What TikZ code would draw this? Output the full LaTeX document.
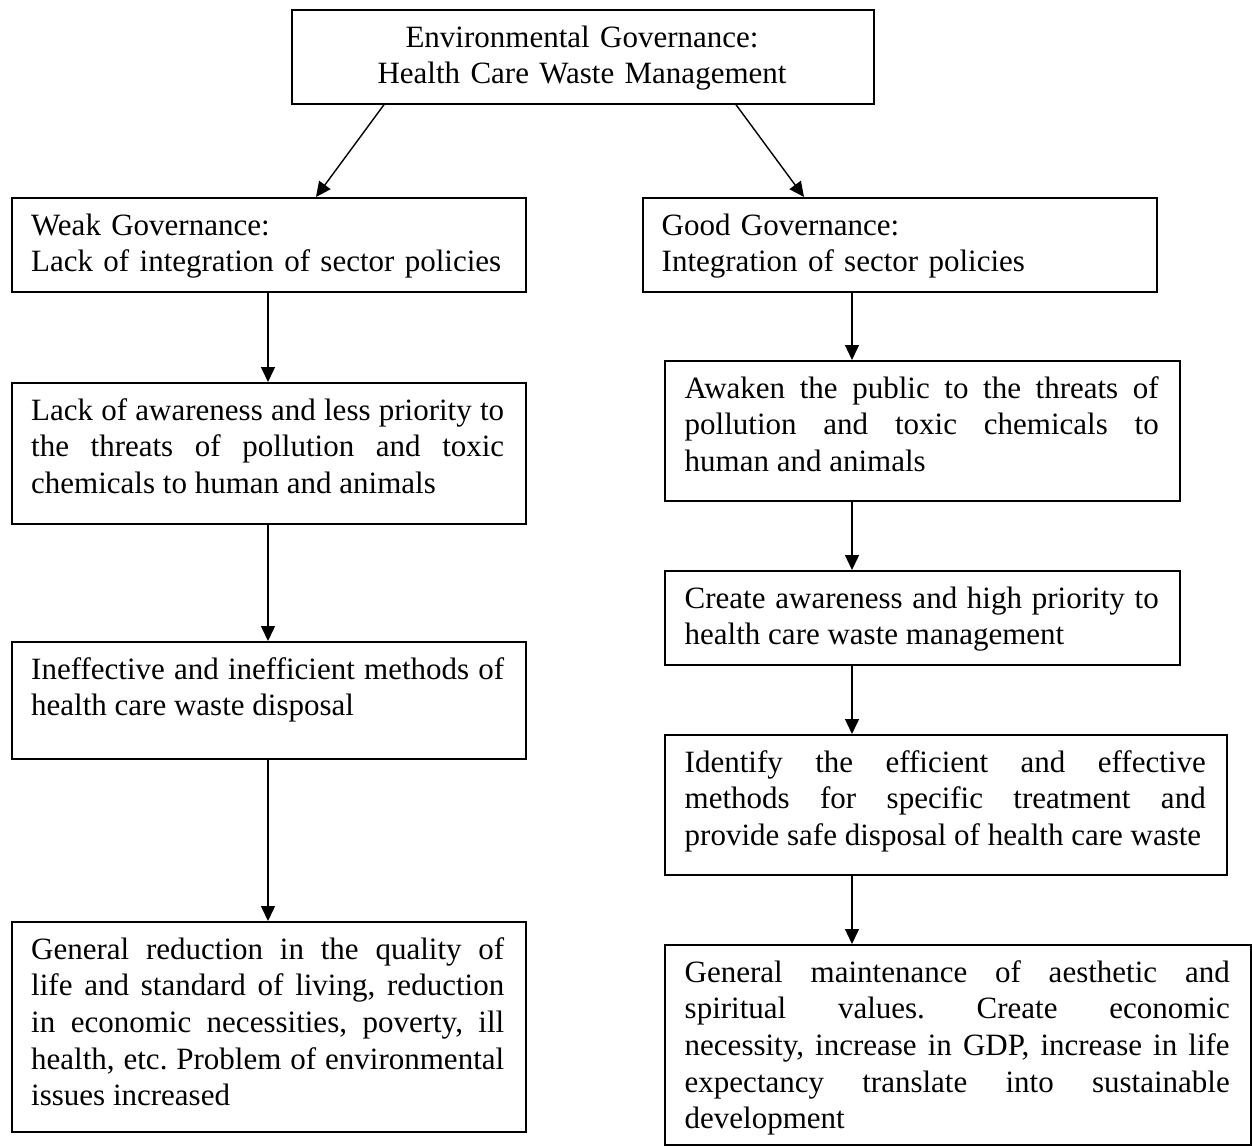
\documentclass[tikz,border=0pt]{standalone}
\usepackage{fontspec}
\setmainfont{Liberation Serif}[Ligatures=CommonOff]
\usetikzlibrary{arrows.meta}
\tolerance=9999
\hbadness=10000
\frenchspacing
\begin{document}
\begin{tikzpicture}[x=1pt,y=-1pt,
  box/.style={draw=black, line width=1.7pt, inner sep=0pt, anchor=north west},
  txt/.style={inner sep=0pt, anchor=base west, font=\fontsize{31}{36.7}\selectfont\frenchspacing},
  ltxt/.style={txt, align=left},
  jtxt/.style={txt, align=justify},
  arr/.style={line width=1.4pt, -{Triangle[length=15pt,width=14pt]}},
]
\useasboundingbox (0,0) rectangle (1252,1146);

% boxes
\node[box, minimum width=582, minimum height=94] (top) at (291,9) {};
\node[box, minimum width=514, minimum height=94] (weak) at (11,197) {};
\node[box, minimum width=514, minimum height=94] (good) at (642,197) {};
\node[box, minimum width=514, minimum height=141] (lack) at (11,382) {};
\node[box, minimum width=514, minimum height=117] (ineff) at (11,641) {};
\node[box, minimum width=514, minimum height=210] (genl) at (11,921) {};
\node[box, minimum width=515, minimum height=140] (awaken) at (664,360) {};
\node[box, minimum width=515, minimum height=94] (create) at (664,570) {};
\node[box, minimum width=562, minimum height=140] (ident) at (664,734) {};
\node[box, minimum width=586, minimum height=200] (genr) at (664,944) {};

% texts
\node[txt, anchor=base, align=center, text width=570] (ttop) at (582,47)
  {Environmental Governance:\\Health Care Waste Management};
\node[ltxt, text width=473] (tweak) at (31,235)
  {Weak Governance:\\Lack of integration of sector policies};
\node[ltxt, text width=474] (tgood) at (661.5,235)
  {Good Governance:\\Integration of sector policies};
\node[jtxt, text width=473] (tlack) at (31,420)
  {Lack of awareness and less priority to\linebreak the threats of pollution and toxic\linebreak chemicals to human and animals};
\node[jtxt, text width=473] (tineff) at (31,679)
  {Ineffective and inefficient methods of\linebreak health care waste disposal};
\node[jtxt, text width=473] (tgenl) at (31,959)
  {General reduction in the quality of\linebreak life and standard of living, reduction\linebreak in economic necessities, poverty, ill\linebreak health, etc. Problem of environmental\linebreak issues increased};
\node[jtxt, text width=474] (tawaken) at (684.5,398)
  {Awaken the public to the threats of\linebreak pollution and toxic chemicals to\linebreak human and animals};
\node[jtxt, text width=474] (tcreate) at (684.5,608)
  {Create awareness and high priority to\linebreak health care waste management};
\node[jtxt, text width=521] (tident) at (684.5,772)
  {Identify the efficient and effective\linebreak methods for specific treatment and\linebreak provide safe disposal of health care waste};
\node[jtxt, text width=545] (tgenr) at (684.5,982)
  {General maintenance of aesthetic and\linebreak spiritual values. Create economic\linebreak necessity, increase in GDP, increase in life\linebreak expectancy translate into sustainable\linebreak development};

% connector x positions
\coordinate (lx) at (268,0);
\coordinate (rx) at (852,0);
\coordinate (a1) at (384,0);
\coordinate (a2) at (316,0);
\coordinate (a3) at (736,0);
\coordinate (a4) at (804,0);

% connectors
\draw[arr] (top.south -| a1) -- (weak.north -| a2);
\draw[arr] (top.south -| a3) -- (good.north -| a4);
\draw[arr] (weak.south -| lx) -- (lack.north -| lx);
\draw[arr] (lack.south -| lx) -- (ineff.north -| lx);
\draw[arr] (ineff.south -| lx) -- (genl.north -| lx);
\draw[arr] (good.south -| rx) -- (awaken.north -| rx);
\draw[arr] (awaken.south -| rx) -- (create.north -| rx);
\draw[arr] (create.south -| rx) -- (ident.north -| rx);
\draw[arr] (ident.south -| rx) -- (genr.north -| rx);
\end{tikzpicture}
\end{document}
